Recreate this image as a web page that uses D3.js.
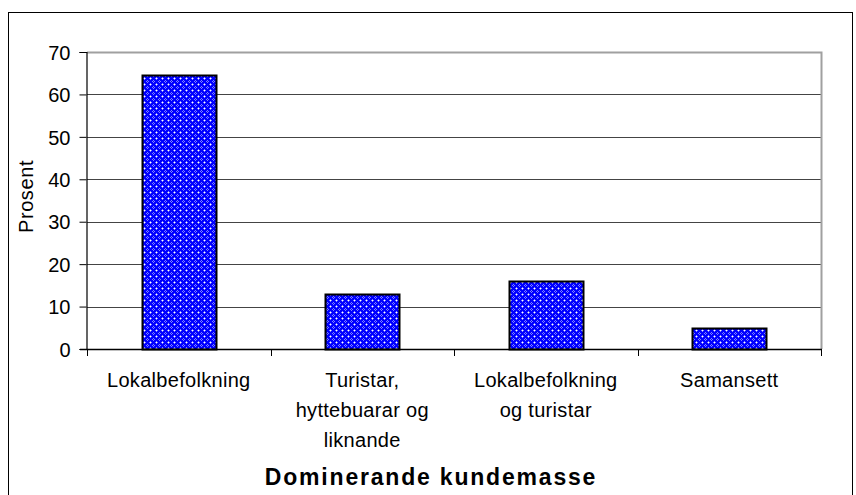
<!DOCTYPE html>
<html>
<head>
<meta charset="utf-8">
<script src="https://cdn.jsdelivr.net/npm/d3@7"></script>
<style>
  body { margin: 0; background: #fff; }
  text { font-family: "Liberation Sans", Arial, sans-serif; fill: #000; }
</style>
</head>
<body>
<script>
var width = 856,
    height = 495;

// chart data
var categories = ["Lokalbefolkning", "Turistar, hyttebuarar og liknande", "Lokalbefolkning og turistar", "Samansett"];
var catLines = [["Lokalbefolkning"], ["Turistar,", "hyttebuarar og", "liknande"], ["Lokalbefolkning", "og turistar"], ["Samansett"]];
var values = [64.5, 13, 16, 5];
var yTicks = [0, 10, 20, 30, 40, 50, 60, 70];

var plot = { left: 87, right: 821, top: 52, bottom: 349 };

var svg = d3.select("body").append("svg")
    .attr("width", width)
    .attr("height", height);

// fill pattern like the excel one
var defs = svg.append("defs");
var pat = defs.append("pattern")
    .attr("id", "grid")
    .attr("width", 6).attr("height", 6)
    .attr("patternUnits", "userSpaceOnUse");
pat.append("rect").attr("width", 6).attr("height", 6).attr("fill", "#0000ff");
var light = [[1, 0], [0, 1], [5, 0], [0, 5], [3, 2], [3, 4], [2, 3], [4, 3]];
light.forEach(function (p) {
    pat.append("rect").attr("x", p[0]).attr("y", p[1]).attr("width", 1).attr("height", 1).attr("fill", "#8080ff");
});
pat.append("rect").attr("x", 0).attr("y", 0).attr("width", 1).attr("height", 1).attr("fill", "#ffffff");

// outer chart frame
svg.append("rect")
    .attr("x", 8.5).attr("y", 12.5)
    .attr("width", 844).attr("height", 500)
    .attr("fill", "none")
    .attr("stroke", "#000")
    .attr("stroke-width", 1);

var x = d3.scaleBand()
    .domain(categories)
    .range([plot.left, plot.right])
    .paddingInner(0.597)
    .paddingOuter(0.2985);

var y = d3.scaleLinear()
    .domain([0, 70])
    .range([plot.bottom, plot.top]);

// gridlines
svg.append("g")
    .selectAll("line")
    .data(yTicks.filter(function (d) { return d > 0; }))
    .enter()
    .append("line")
    .attr("x1", plot.left).attr("x2", plot.right)
    .attr("y1", function (d) { return Math.round(y(d)) + 0.5; })
    .attr("y2", function (d) { return Math.round(y(d)) + 0.5; })
    .attr("stroke", "#444")
    .attr("stroke-width", 1);

// plot frame (top + right, grey)
svg.append("path")
    .attr("d", "M" + plot.left + "," + (plot.top + 0.5) + "H" + (plot.right + 0.5) + "V" + plot.bottom)
    .attr("fill", "none")
    .attr("stroke", "#a0a0a0")
    .attr("stroke-width", 2);

// bars
svg.append("g")
    .selectAll("rect")
    .data(values)
    .enter()
    .append("rect")
    .attr("x", function (d, i) { return Math.round(x(categories[i])) + 0.5; })
    .attr("y", function (d) { return Math.round(y(d)) + 0.5; })
    .attr("width", Math.round(x.bandwidth()))
    .attr("height", function (d) { return Math.round(y(0)) - Math.round(y(d)); })
    .attr("fill", "url(#grid)")
    .attr("stroke", "#000")
    .attr("stroke-width", 2);

// y axis
var yAxis = svg.append("g")
    .attr("transform", "translate(" + (plot.left - 0.5) + ",0)")
    .call(d3.axisLeft(y).tickValues(yTicks).tickSize(7).tickPadding(9));
yAxis.select(".domain").attr("stroke", "#000").attr("stroke-width", 1.2);
yAxis.selectAll(".tick line").attr("stroke", "#000");
yAxis.selectAll(".tick text")
    .style("font-family", "Liberation Sans, Arial, sans-serif")
    .style("font-size", "20px")
    .attr("dy", "0.36em");

// x axis line + ticks at band edges
var xg = svg.append("g");
xg.append("line")
    .attr("x1", plot.left - 7).attr("x2", plot.right + 1)
    .attr("y1", plot.bottom + 0.5).attr("y2", plot.bottom + 0.5)
    .attr("stroke", "#000").attr("stroke-width", 1.5);
var edges = categories.map(function (c) { return x(c) - x.step() * x.paddingInner() / 2; });
edges.push(plot.right);
xg.selectAll("line.tk")
    .data(edges)
    .enter()
    .append("line")
    .attr("class", "tk")
    .attr("x1", function (d) { return Math.round(d) + 0.5; })
    .attr("x2", function (d) { return Math.round(d) + 0.5; })
    .attr("y1", plot.bottom).attr("y2", plot.bottom + 7)
    .attr("stroke", "#000");

// category labels
var lab = svg.append("g")
    .selectAll("text")
    .data(catLines)
    .enter()
    .append("text")
    .attr("text-anchor", "middle")
    .style("font-size", "20px")
    .style("letter-spacing", "0.3px")
    .attr("transform", function (d, i) {
        return "translate(" + (x(categories[i]) + x.bandwidth() / 2) + ",387)";
    });
lab.selectAll("tspan")
    .data(function (d) { return d; })
    .enter()
    .append("tspan")
    .attr("x", 0)
    .attr("y", function (d, i) { return i * 30; })
    .text(function (d) { return d; });

// axis titles
svg.append("text")
    .attr("transform", "translate(33," + ((plot.top + plot.bottom) / 2 - 4) + ") rotate(-90)")
    .attr("text-anchor", "middle")
    .style("font-size", "20px")
    .style("letter-spacing", "0.6px")
    .text("Prosent");

svg.append("text")
    .attr("x", 431)
    .attr("y", 485)
    .attr("text-anchor", "middle")
    .style("font-size", "23px")
    .style("font-weight", "bold")
    .style("letter-spacing", "1.8px")
    .text("Dominerande kundemasse");
</script>
</body>
</html>
